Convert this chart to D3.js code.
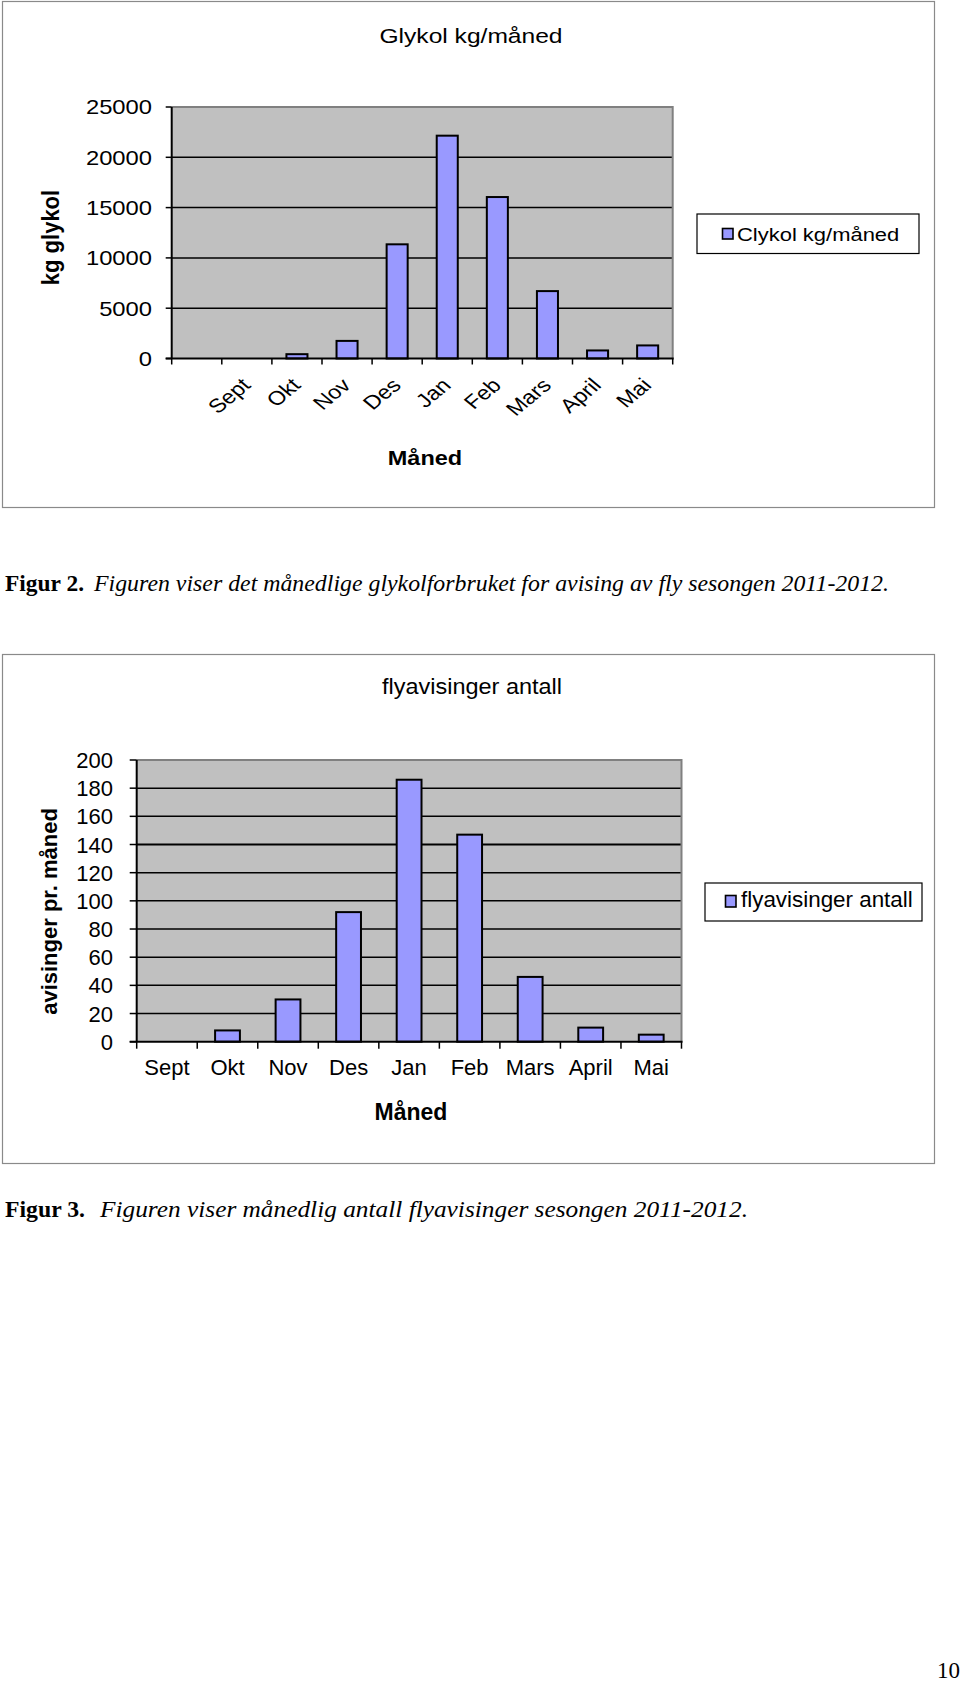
<!DOCTYPE html>
<html>
<head>
<meta charset="utf-8">
<script src="https://cdn.jsdelivr.net/npm/d3@7"></script>
<style>
  html, body { margin: 0; padding: 0; background: #fff; }
  svg { display: block; }
</style>
</head>
<body>
<svg id="page" width="960" height="1682"></svg>
<script>
// ---------------- data ----------------
const months1 = ["", "Sept", "Okt", "Nov", "Des", "Jan", "Feb", "Mars", "April", "Mai"];
const glykolKg = [null, 0, 430, 1750, 11350, 22150, 16050, 6700, 800, 1300];
const yTicks1 = [0, 5000, 10000, 15000, 20000, 25000];

const months2 = ["Sept", "Okt", "Nov", "Des", "Jan", "Feb", "Mars", "April", "Mai"];
const avisinger = [0, 8, 30, 92, 186, 147, 46, 10, 5];
const yTicks2 = [0, 20, 40, 60, 80, 100, 120, 140, 160, 180, 200];

const title1 = "Glykol kg/måned";
const legend1 = "Clykol kg/måned";
const yTitle1 = "kg glykol";
const xTitle = "Måned";
const title2 = "flyavisinger antall";
const legend2 = "flyavisinger antall";
const yTitle2 = "avisinger pr. måned";

const cap2Bold = "Figur 2.";
const cap2Ital = "Figuren viser det månedlige glykolforbruket for avising av fly sesongen 2011-2012.";
const cap3Bold = "Figur 3.";
const cap3Ital = "Figuren viser månedlig antall flyavisinger sesongen 2011-2012.";
const pageNo = "10";

// ---------------- drawing ----------------
const svg = d3.select("#page");
const SANS = "'Liberation Sans', Arial, sans-serif";
const SERIF = "'Liberation Serif', 'Times New Roman', serif";
const BAR = "#9999FF";
const PLOTBG = "#C0C0C0";

// text helper: translate, horizontal stretch, optional rotation
function stext(g, x, y, txt, o) {
  o = o || {};
  const sx = o.sx || 1;
  let tr = `translate(${x},${y}) scale(${sx},1)`;
  if (o.rot) tr += ` rotate(${o.rot})`;
  const t = g.append("g").attr("transform", tr).append("text")
    .attr("x", 0).attr("y", 0)
    .attr("font-family", o.family || SANS)
    .attr("font-size", o.size || 20)
    .attr("font-weight", o.weight || "normal")
    .attr("font-style", o.style || "normal")
    .attr("text-anchor", o.anchor || "start")
    .attr("fill", "#000")
    .text(txt);
  if (o.len) t.attr("textLength", o.len).attr("lengthAdjust", "spacingAndGlyphs");
  return t;
}

// ===== Chart 1 =====
(function () {
  const g = svg.append("g");
  g.append("rect").attr("x", 2.5).attr("y", 1.5).attr("width", 932).attr("height", 506)
    .attr("fill", "#fff").attr("stroke", "#8a8a8a").attr("stroke-width", 1.2);

  const L = 171.7, R = 672.7, T = 107, B = 358.5;
  const x = d3.scaleBand().domain(months1).range([L, R]).padding(0);
  const y = d3.scaleLinear().domain([0, 25000]).range([B, T]);
  const SX = 1.2;

  g.append("rect").attr("x", L).attr("y", T).attr("width", R - L).attr("height", B - T).attr("fill", PLOTBG);
  g.selectAll(".grid1").data(yTicks1.filter(d => d > 0 && d < 25000)).enter().append("line")
    .attr("x1", L).attr("x2", R).attr("y1", d => y(d)).attr("y2", d => y(d))
    .attr("stroke", "#000").attr("stroke-width", 1.5);
  g.append("path").attr("d", `M${L},${T}H${R}V${B}`).attr("fill", "none")
    .attr("stroke", "#808080").attr("stroke-width", 2);

  const bw = x.bandwidth() * 0.42;
  g.selectAll(".bar1").data(months1.map((m, i) => ({ m, v: glykolKg[i] })).filter(d => d.v !== null && d.v > 0))
    .enter().append("rect")
    .attr("x", d => x(d.m) + (x.bandwidth() - bw) / 2)
    .attr("y", d => y(d.v))
    .attr("width", bw)
    .attr("height", d => y(0) - y(d.v))
    .attr("fill", BAR).attr("stroke", "#000").attr("stroke-width", 2);

  g.append("line").attr("x1", L).attr("x2", L).attr("y1", T).attr("y2", B).attr("stroke", "#000").attr("stroke-width", 2);
  g.append("line").attr("x1", L - 6).attr("x2", R + 1).attr("y1", B).attr("y2", B).attr("stroke", "#000").attr("stroke-width", 2);
  g.selectAll(".yt1").data(yTicks1).enter().append("line")
    .attr("x1", L - 6).attr("x2", L).attr("y1", d => y(d)).attr("y2", d => y(d))
    .attr("stroke", "#000").attr("stroke-width", 1.5);
  const bounds1 = months1.map(m => x(m)).concat([R]);
  g.selectAll(".xt1").data(bounds1).enter().append("line")
    .attr("x1", d => d).attr("x2", d => d).attr("y1", B).attr("y2", B + 6)
    .attr("stroke", "#000").attr("stroke-width", 1.5);

  yTicks1.forEach(d => stext(g, 152, y(d) + 7.3, String(d), { size: 19.8, anchor: "end", sx: SX }));
  months1.forEach(m => {
    if (!m) return;
    stext(g, x(m) + x.bandwidth() / 2 + 5, B + 28, m, { size: 19.5, anchor: "end", sx: SX, rot: -45 });
  });

  stext(g, 471, 42.7, title1, { size: 20.5, anchor: "middle", sx: SX });
  stext(g, 425, 464.5, xTitle, { size: 21, weight: "bold", anchor: "middle", sx: 1.12 });
  stext(g, 58.5, 237.5, yTitle1, { size: 22, weight: "bold", anchor: "middle", sx: 1.05, rot: -90 });

  g.append("rect").attr("x", 697).attr("y", 214).attr("width", 222).attr("height", 39.5)
    .attr("fill", "#fff").attr("stroke", "#000").attr("stroke-width", 1.2);
  g.append("rect").attr("x", 722.5).attr("y", 228.5).attr("width", 10.5).attr("height", 10.5)
    .attr("fill", BAR).attr("stroke", "#000").attr("stroke-width", 1.6);
  stext(g, 737, 240.5, legend1, { size: 18.3, sx: SX });
})();

// ===== Caption 1 =====
stext(svg, 5, 591, cap2Bold, { family: SERIF, size: 23, weight: "bold", len: 79 });
stext(svg, 94, 591, cap2Ital, { family: SERIF, size: 23, style: "italic", len: 795 });

// ===== Chart 2 =====
(function () {
  const g = svg.append("g");
  g.append("rect").attr("x", 2.5).attr("y", 654.5).attr("width", 932).attr("height", 509)
    .attr("fill", "#fff").attr("stroke", "#8a8a8a").attr("stroke-width", 1.2);

  const L = 136.7, R = 681.5, T = 760, B = 1041.7;
  const x = d3.scaleBand().domain(months2).range([L, R]).padding(0);
  const y = d3.scaleLinear().domain([0, 200]).range([B, T]);

  g.append("rect").attr("x", L).attr("y", T).attr("width", R - L).attr("height", B - T).attr("fill", PLOTBG);
  g.selectAll(".grid2").data(yTicks2.filter(d => d > 0 && d < 200)).enter().append("line")
    .attr("x1", L).attr("x2", R).attr("y1", d => y(d)).attr("y2", d => y(d))
    .attr("stroke", "#000").attr("stroke-width", d => d === 140 ? 2.2 : 1.5);
  g.append("path").attr("d", `M${L},${T}H${R}V${B}`).attr("fill", "none")
    .attr("stroke", "#808080").attr("stroke-width", 2);

  const bw = x.bandwidth() * 0.41;
  g.selectAll(".bar2").data(months2.map((m, i) => ({ m, v: avisinger[i] })).filter(d => d.v > 0))
    .enter().append("rect")
    .attr("x", d => x(d.m) + (x.bandwidth() - bw) / 2)
    .attr("y", d => y(d.v))
    .attr("width", bw)
    .attr("height", d => y(0) - y(d.v))
    .attr("fill", BAR).attr("stroke", "#000").attr("stroke-width", 2);

  g.append("line").attr("x1", L).attr("x2", L).attr("y1", T).attr("y2", B).attr("stroke", "#000").attr("stroke-width", 2);
  g.append("line").attr("x1", L - 7).attr("x2", R + 1).attr("y1", B).attr("y2", B).attr("stroke", "#000").attr("stroke-width", 2);
  g.selectAll(".yt2").data(yTicks2).enter().append("line")
    .attr("x1", L - 7).attr("x2", L).attr("y1", d => y(d)).attr("y2", d => y(d))
    .attr("stroke", "#000").attr("stroke-width", 1.5);
  const bounds2 = months2.map(m => x(m)).concat([R]);
  g.selectAll(".xt2").data(bounds2).enter().append("line")
    .attr("x1", d => d).attr("x2", d => d).attr("y1", B).attr("y2", B + 7)
    .attr("stroke", "#000").attr("stroke-width", 1.5);

  yTicks2.forEach(d => stext(g, 113, y(d) + 8, String(d), { size: 22, anchor: "end" }));
  months2.forEach(m => stext(g, x(m) + x.bandwidth() / 2, 1075, m, { size: 22, anchor: "middle" }));

  stext(g, 472, 694, title2, { size: 22.5, anchor: "middle", len: 180 });
  stext(g, 411, 1120, xTitle, { size: 23, weight: "bold", anchor: "middle" });
  stext(g, 57, 911.5, yTitle2, { size: 22, weight: "bold", anchor: "middle", rot: -90 });

  g.append("rect").attr("x", 705).attr("y", 883).attr("width", 217).attr("height", 38)
    .attr("fill", "#fff").attr("stroke", "#000").attr("stroke-width", 1.2);
  g.append("rect").attr("x", 725.5).attr("y", 895.5).attr("width", 10.5).attr("height", 11.5)
    .attr("fill", BAR).attr("stroke", "#000").attr("stroke-width", 1.6);
  stext(g, 741, 907, legend2, { size: 22.4 });
})();

// ===== Caption 2 and page number =====
stext(svg, 5, 1217, cap3Bold, { family: SERIF, size: 23, weight: "bold", len: 80 });
stext(svg, 100, 1217, cap3Ital, { family: SERIF, size: 23, style: "italic", len: 648 });
stext(svg, 960, 1678, pageNo, { family: SERIF, size: 23, anchor: "end" });
</script>
</body>
</html>
